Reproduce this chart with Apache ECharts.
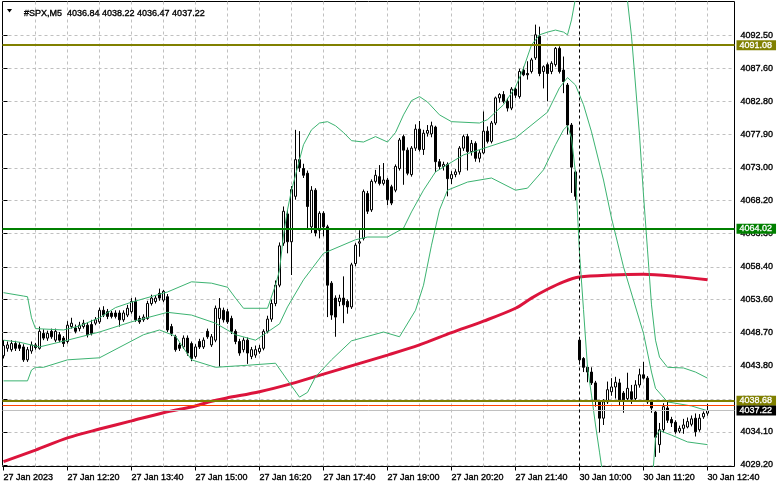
<!DOCTYPE html>
<html>
<head>
<meta charset="utf-8">
<script src="https://cdn.jsdelivr.net/npm/echarts@6/dist/echarts.min.js"></script>
<style>
html,body{margin:0;padding:0;background:#ffffff;}
#c{width:781px;height:489px;}
</style>
</head>
<body>
<div id="c"></div>
<script>
// ---------- data ----------
const symbol = '#SPX,M5';

// 5-minute bars, index 0 = 27 Jan 11:00 ... index 143 = 27 Jan 22:55, index 144 = 30 Jan 10:00 ... index 176 = 30 Jan 12:40
const opens = [
4045.3,4046.4,4046.2,4047.1,4046.9,4046.6,4044.7,4046.0,4046.9,4046.4,
4048.6,4047.9,4048.9,4047.6,4048.4,4047.9,4047.4,4049.6,4049.4,4049.3,
4049.6,4049.8,4049.9,4050.1,4050.3,4052.0,4051.8,4051.6,4051.6,4051.6,
4050.6,4051.3,4051.8,4053.3,4050.8,4050.6,4050.8,4053.0,4053.3,4054.5,
4053.5,4054.0,4049.6,4048.1,4046.9,4046.6,4047.9,4047.1,4045.2,4047.4,
4046.6,4048.9,4046.9,4047.6,4050.8,4052.0,4051.8,4050.8,4048.9,4047.4,
4046.2,4047.6,4045.2,4045.4,4045.9,4046.4,4048.9,4050.7,4053.0,4055.7,
4061.9,4066.2,4062.1,4068.8,4074.2,4072.9,4072.2,4064.3,4069.7,4063.8,
4066.3,4064.3,4056.0,4053.8,4053.3,4053.8,4053.3,4052.5,4058.9,4061.9,
4062.6,4069.2,4066.8,4071.0,4071.7,4070.7,4071.2,4070.2,4069.7,4072.9,
4077.6,4075.6,4072.0,4075.9,4078.7,4075.7,4078.1,4078.0,4079.0,4073.9,
4073.2,4073.5,4071.4,4072.0,4072.4,4075.9,4077.6,4075.4,4076.6,4074.4,
4075.2,4078.4,4076.9,4079.6,4083.3,4083.8,4082.8,4081.8,4084.6,4083.5,
4087.4,4086.9,4087.2,4089.2,4092.4,4087.2,4088.2,4087.2,4088.2,4090.6,
4087.4,4085.2,4079.3,4072.4,4047.6,4044.9,4043.6,4042.9,4041.3,4038.5,
4036.1,4038.5,4040.0,4040.7,4041.3,4039.8,4039.0,4040.0,4039.0,4041.0,
4042.5,4042.0,4038.5,4037.0,4032.2,4034.4,4037.6,4035.9,4035.5,4034.2,
4034.6,4034.8,4035.2,4036.1,4034.4,4036.3,4036.84];
const highs = [
4047.6,4047.4,4047.6,4047.5,4047.3,4047.0,4046.6,4047.4,4047.2,4049.6,
4049.2,4049.0,4049.3,4049.3,4048.8,4048.2,4050.4,4050.9,4049.9,4050.3,
4050.6,4050.2,4050.6,4051.0,4052.4,4052.6,4052.2,4051.9,4052.0,4052.0,
4052.0,4052.8,4053.8,4053.9,4051.2,4051.4,4053.4,4054.3,4054.2,4055.2,
4055.0,4054.4,4050.0,4048.4,4047.2,4048.3,4048.3,4047.4,4047.0,4047.8,
4048.0,4049.3,4048.5,4052.7,4053.8,4052.4,4052.2,4051.2,4049.2,4047.8,
4048.0,4048.0,4046.6,4046.8,4046.9,4049.2,4051.2,4053.6,4056.4,4062.0,
4067.3,4066.8,4070.3,4078.6,4078.4,4073.6,4072.6,4070.3,4070.0,4066.6,
4066.6,4064.6,4056.3,4054.2,4054.3,4057.0,4053.6,4059.0,4061.9,4063.8,
4069.8,4069.6,4071.3,4072.7,4073.4,4073.7,4071.5,4070.5,4073.5,4077.4,
4077.9,4076.0,4076.2,4079.4,4079.9,4078.6,4079.3,4079.8,4079.2,4074.3,
4073.9,4073.8,4072.5,4072.8,4076.2,4077.9,4078.0,4077.1,4076.9,4075.6,
4081.3,4079.1,4079.9,4083.5,4084.0,4084.3,4083.3,4084.9,4084.9,4087.6,
4087.9,4088.7,4089.2,4094.1,4093.8,4088.1,4088.5,4088.7,4090.8,4090.9,
4089.4,4085.5,4079.6,4072.6,4048.1,4045.1,4043.9,4043.6,4041.6,4038.8,
4038.9,4041.5,4042.0,4042.2,4041.9,4040.1,4042.8,4041.0,4041.7,4043.4,
4044.4,4042.3,4038.8,4037.3,4035.4,4038.3,4038.5,4036.3,4035.8,4035.0,
4036.0,4036.2,4036.5,4036.8,4036.7,4037.1,4038.22];
const lows = [
4044.9,4045.9,4045.9,4046.0,4046.0,4044.4,4044.4,4045.6,4046.2,4046.2,
4047.6,4047.5,4047.8,4047.3,4047.3,4046.6,4047.1,4049.3,4048.6,4048.9,
4049.3,4048.0,4048.3,4049.8,4050.0,4051.0,4050.7,4050.8,4050.8,4049.6,
4050.3,4051.0,4051.5,4050.3,4050.0,4050.3,4050.6,4052.7,4053.0,4053.4,
4053.2,4048.8,4048.2,4045.9,4046.0,4046.3,4045.3,4044.5,4044.9,4046.3,
4046.3,4047.8,4046.6,4047.3,4043.7,4050.2,4050.0,4048.5,4047.0,4045.3,
4045.8,4044.1,4044.8,4045.0,4045.6,4046.1,4048.6,4050.3,4052.6,4055.4,
4061.5,4060.4,4057.2,4068.3,4072.4,4071.5,4064.1,4063.4,4062.9,4062.6,
4062.9,4051.0,4050.6,4048.1,4052.6,4050.1,4051.5,4052.2,4058.5,4059.9,
4062.3,4066.2,4066.5,4070.7,4070.4,4070.4,4067.5,4067.5,4069.4,4072.6,
4070.5,4071.9,4071.7,4075.5,4075.4,4074.9,4077.6,4077.5,4072.4,4072.7,
4072.6,4068.8,4070.6,4071.6,4072.0,4075.5,4072.6,4074.8,4073.9,4073.8,
4075.0,4076.6,4076.6,4079.3,4082.6,4082.5,4081.3,4081.5,4083.3,4083.2,
4086.5,4086.0,4086.9,4088.9,4086.5,4084.7,4082.8,4086.8,4087.9,4086.9,
4084.0,4077.9,4069.3,4068.2,4044.4,4042.9,4041.4,4041.0,4037.8,4034.0,
4035.1,4038.2,4039.4,4039.0,4038.0,4036.9,4038.7,4038.2,4038.7,4040.6,
4041.8,4038.2,4036.9,4030.4,4031.0,4034.0,4035.4,4034.8,4033.8,4033.9,
4033.8,4034.6,4034.9,4033.4,4034.1,4036.0,4036.47];
const closes = [
4046.8,4046.9,4047.1,4046.4,4046.4,4044.7,4046.2,4046.9,4046.5,4048.9,
4047.9,4048.6,4048.1,4048.9,4047.6,4047.1,4049.8,4050.1,4048.9,4049.8,
4050.1,4048.4,4048.6,4050.6,4052.0,4051.3,4051.1,4051.1,4051.1,4050.6,
4051.6,4052.3,4053.3,4050.6,4050.3,4051.0,4053.0,4053.8,4053.8,4053.8,
4054.8,4049.1,4048.6,4046.2,4046.4,4047.9,4045.7,4044.9,4046.6,4046.6,
4047.6,4048.1,4048.1,4052.3,4052.3,4050.6,4050.3,4048.9,4047.4,4045.7,
4047.6,4045.7,4046.2,4046.2,4046.4,4048.9,4050.7,4053.0,4055.7,4061.5,
4066.6,4062.1,4069.8,4074.2,4073.0,4071.9,4067.3,4069.7,4063.4,4066.3,
4064.3,4055.7,4051.3,4051.0,4053.8,4052.8,4052.5,4058.7,4061.6,4062.1,
4069.5,4066.6,4071.0,4071.9,4070.7,4071.2,4068.3,4067.8,4073.2,4077.1,
4075.6,4072.2,4075.9,4078.7,4075.7,4078.1,4078.5,4079.2,4073.9,4073.2,
4073.5,4071.4,4072.0,4072.4,4075.9,4077.6,4075.4,4076.6,4074.4,4075.2,
4078.4,4076.9,4079.6,4083.3,4083.8,4082.8,4081.8,4084.6,4083.7,4087.2,
4086.7,4086.7,4088.9,4092.6,4086.9,4087.9,4086.9,4088.4,4090.6,4087.2,
4085.7,4079.3,4073.1,4068.8,4044.7,4043.6,4042.9,4041.3,4038.8,4036.1,
4038.5,4040.3,4040.7,4041.4,4038.8,4038.8,4040.5,4038.9,4041.0,4042.5,
4042.0,4038.5,4037.6,4033.3,4034.4,4037.8,4035.8,4035.4,4034.1,4034.6,
4035.1,4035.6,4036.0,4034.1,4036.1,4036.8,4037.22];

// Bollinger bands (at these bar indices)
const upperBars = [0,5,6,7,8,15,19,24,28,32,41,47,52,56,58,60,66,68,69,70,71,72,73,74,75,77,79,81,83,85,87,90,93,96,98,100,102,104,106,109,112,119,121,123,125,128,130,132,134,136,138,140,141,142,143,144,146,148,150,152,154,155,156,157,158,159,160,161,162,163,164,166,170,173,176];
const upperVals = [4054.6,4054.1,4054.0,4050.9,4049.3,4049.1,4049.7,4050.9,4052.4,4053.2,4054.7,4056.2,4056.0,4055.4,4053.8,4052.3,4052.3,4055.7,4057.9,4063.1,4066.8,4069.7,4071.9,4074.2,4076.4,4078.6,4079.6,4079.8,4079.2,4078.2,4077.0,4076.8,4077.6,4076.8,4078.2,4080.8,4082.9,4083.5,4082.7,4080.8,4079.8,4079.6,4080.1,4081.2,4082.3,4084.9,4087.7,4091.1,4092.6,4093.0,4093.3,4093.0,4092.6,4094.8,4098.0,4101.5,4106.0,4109.0,4110.5,4110.0,4107.0,4103.0,4097.6,4092.4,4085.2,4077.8,4069.0,4060.9,4052.8,4047.6,4045.1,4043.6,4043.5,4042.9,4042.0];
const midBars = [0,4,9,16,24,32,41,47,53,58,63,69,71,75,80,88,91,96,100,102,105,108,115,128,136,139,141,143,145,147,150,152,155,160,162,163,166,172,176];
const midVals = [4047.6,4047.3,4046.6,4047.6,4048.8,4050.3,4051.7,4051.3,4050.1,4048.4,4047.6,4050.0,4052.5,4056.5,4060.4,4062.4,4062.8,4062.8,4064.1,4066.5,4069.7,4072.4,4074.9,4077.4,4081.2,4084.8,4086.3,4085.2,4082.3,4078.3,4071.2,4065.6,4058.4,4048.6,4042.9,4040.5,4038.5,4037.9,4037.2];
const lowBars = [0,6,7,8,10,16,24,35,39,43,47,53,61,68,71,74,76,78,82,87,95,99,103,105,107,109,111,116,122,128,131,135,138,140,141,142,143,144,145,146,147,148,149,150,151,153,156,159,161,162,163,164,167,171,176];
const lowVals = [4041.6,4041.6,4043.2,4043.6,4043.6,4044.7,4045.0,4048.4,4049.1,4048.2,4044.7,4043.6,4043.9,4044.2,4041.7,4039.2,4039.9,4042.2,4044.7,4047.5,4048.8,4048.1,4052.0,4055.7,4061.6,4066.8,4069.7,4070.9,4071.5,4069.7,4070.0,4072.7,4076.4,4078.6,4079.2,4077.4,4072.2,4060.4,4052.1,4043.6,4039.5,4035.1,4031.1,4027.0,4024.0,4020.5,4018.5,4019.5,4021.5,4025.0,4033.3,4034.3,4033.6,4032.6,4032.2];

// moving average (red)
const maBars = [0,8,16,24,32,40,48,52,56,64,72,80,88,96,104,112,120,128,132,136,140,144,152,160,168,176];
const maVals = [4029.7,4031.4,4033.2,4034.5,4035.7,4036.9,4037.9,4038.6,4039.1,4040.0,4041.2,4042.6,4044.0,4045.4,4046.9,4048.7,4050.4,4052.3,4053.8,4055.1,4056.2,4056.9,4057.2,4057.3,4057.0,4056.5];

// horizontal levels and price lines
const levelPrices = [4091.08, 4064.02, 4038.68];
const askPrice = 4038.00;
const sessionBreakBar = 144;

// axes
const yTicks = [4029.20,4034.10,4038.90,4043.80,4048.70,4053.60,4058.40,4063.30,4068.20,4073.00,4077.90,4082.80,4087.60,4092.50];
const labelBars = [0,16,32,48,64,80,96,112,128,144,160,176];
const labelTexts = ['27 Jan 2023','27 Jan 12:20','27 Jan 13:40','27 Jan 15:00','27 Jan 16:20','27 Jan 17:40','27 Jan 19:00','27 Jan 20:20','27 Jan 21:40','30 Jan 10:00','30 Jan 11:20','30 Jan 12:40'];
const gridBars = [8,16,24,32,40,48,56,64,72,80,88,96,104,112,120,128,136,144,152,160,168,176];

// ---------- chart ----------
const FONT = "'Liberation Sans', Arial, sans-serif";
const TXT = { fontFamily: FONT, fontSize: 9, color: '#000000', textBorderColor: '#000000', textBorderWidth: 0.35 };
const last = closes.length - 1;
const candleData = opens.map((o, i) => [i, o, closes[i], lows[i], highs[i]]);
const pairs = (bars, vals) => bars.map((b, k) => [b, vals[k]]);
const X_MIN = -0.25, X_MAX = 182.75, Y_MIN = 4028.98, Y_MAX = 4097.51;

const levelColors = ['#808000', '#008000', '#808000'];
function priceLabel(bg) {
  return {
    show: true, position: 'end', distance: 2,
    formatter: p => Number(p.value).toFixed(2),
    color: '#ffffff', backgroundColor: bg, fontFamily: FONT, fontSize: 9,
    textBorderColor: '#ffffff', textBorderWidth: 0.3,
    lineHeight: 10, padding: [0, 4, 0, 3]
  };
}
const markData = levelPrices.map((p, k) => ({
  yAxis: p,
  lineStyle: { color: levelColors[k], width: 2, type: 'solid' },
  label: priceLabel(levelColors[k])
}));
markData.push({ yAxis: askPrice, lineStyle: { color: '#ff4500', width: 1, type: 'solid' }, label: { show: false } });
markData.push({ yAxis: closes[last], lineStyle: { color: '#c0c0c0', width: 1, type: 'solid' }, label: priceLabel('#000000') });
markData.push({ xAxis: sessionBreakBar, lineStyle: { color: '#000000', width: 1, type: [3, 3] }, label: { show: false } });

const header = symbol + '  ' + [opens[last], highs[last], lows[last], closes[last]].map(v => v.toFixed(2)).join(' ');

const chart = echarts.init(document.getElementById('c'), null, { renderer: 'canvas' });
chart.setOption({
  animation: false,
  backgroundColor: '#ffffff',
  title: {
    text: header, left: 19, top: 4,
    textStyle: Object.assign({ fontWeight: 'normal' }, TXT)
  },
  graphic: [{
    type: 'polygon', silent: true,
    shape: { points: [[7, 9], [12, 9], [9.5, 12.5]] },
    style: { fill: '#000000' }
  }],
  grid: {
    left: 2.5, top: 1.5, right: 46.5, bottom: 22.5,
    show: true, borderColor: '#000000', borderWidth: 1, backgroundColor: '#ffffff',
    containLabel: false, outerBoundsMode: 'none'
  },
  xAxis: [{
    type: 'value', min: X_MIN, max: X_MAX, position: 'bottom',
    axisLine: { show: false },
    axisTick: { show: true, customValues: labelBars, length: 4, lineStyle: { color: '#000000' } },
    axisLabel: Object.assign({
      customValues: labelBars, align: 'left', margin: 7,
      formatter: v => labelTexts[labelBars.indexOf(Math.round(v))] || ''
    }, TXT),
    splitLine: { show: false }
  }, {
    type: 'value', min: X_MIN, max: X_MAX, position: 'bottom',
    axisLine: { show: false },
    axisTick: { show: false, customValues: gridBars },
    axisLabel: { show: false },
    splitLine: { show: true, lineStyle: { color: '#c0c0c0', width: 1, type: [3, 3] } }
  }],
  yAxis: {
    type: 'value', position: 'right', min: Y_MIN, max: Y_MAX,
    axisLine: { show: false },
    axisTick: { show: true, customValues: yTicks, length: 4, lineStyle: { color: '#000000' } },
    axisLabel: Object.assign({
      customValues: yTicks, margin: 6,
      formatter: v => Number(v).toFixed(2)
    }, TXT),
    splitLine: { show: true, lineStyle: { color: '#c0c0c0', width: 1, type: [3, 3] } }
  },
  series: [{
    type: 'candlestick',
    xAxisIndex: 0, yAxisIndex: 0,
    data: candleData,
    encode: { x: 0, y: [1, 2, 3, 4] },
    barWidth: 2,
    itemStyle: { color: '#ffffff', color0: '#000000', borderColor: '#000000', borderColor0: '#000000', borderWidth: 1 },
    silent: true,
    markLine: { silent: true, symbol: ['none', 'none'], animation: false, data: markData }
  }, {
    type: 'line', data: pairs(maBars, maVals), symbol: 'none', smooth: 0.3, silent: true,
    lineStyle: { color: '#dc143c', width: 3 }
  }, {
    type: 'line', data: pairs(upperBars, upperVals), symbol: 'none', silent: true,
    lineStyle: { color: '#3cb371', width: 1 }
  }, {
    type: 'line', data: pairs(midBars, midVals), symbol: 'none', silent: true,
    lineStyle: { color: '#3cb371', width: 1 }
  }, {
    type: 'line', data: pairs(lowBars, lowVals), symbol: 'none', silent: true,
    lineStyle: { color: '#3cb371', width: 1 }
  }]
});
</script>
</body>
</html>
